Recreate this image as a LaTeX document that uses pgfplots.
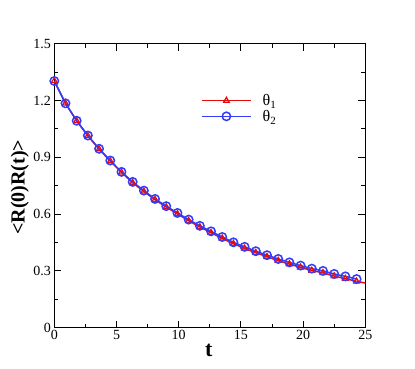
\documentclass[border=0pt]{standalone}
\usepackage{fontspec}
\setmainfont{Liberation Serif}
\usepackage{pgfplots}
\pgfplotsset{compat=1.18}
\definecolor{myred}{RGB}{230,10,10}
\definecolor{myblue}{RGB}{50,60,250}
\newcommand{\sub}[1]{\raisebox{-0.45ex}{\fontsize{11}{12}\selectfont #1}}
\begin{document}
\begin{tikzpicture}
\path[use as bounding box] (-54.3pt,-41.3pt) rectangle (360.7pt,327.7pt);
\begin{axis}[
  at={(0,0)}, anchor=south west,
  scale only axis, width=311pt, height=284pt,
  xmin=0, xmax=25, ymin=0, ymax=1.5,
  xtick={0,5,10,15,20,25},
  ytick={0,0.3,0.6,0.9,1.2,1.5},
  yticklabels={0,0.3,0.6,0.9,1.2,1.5},
  xticklabels={0,5,10,15,20,25},
  minor x tick num=1, minor y tick num=1,
  tick align=inside,
  major tick length=7pt, minor tick length=4pt,
  every tick/.style={black, line width=1pt},
  axis line style={line width=1.3pt},
  /pgf/number format/assume math mode=true,
  tick label style={font=\fontsize{14}{16}\selectfont},
  xticklabel style={yshift=1pt},
  xlabel={\textbf{t}},
  ylabel={\textbf{<R(0)R(t)>}},
  xlabel style={font=\fontsize{22}{24}\selectfont, at={(axis description cs:0.497,-0.081)}, anchor=center},
  ylabel style={font=\fontsize{20}{24}\selectfont, at={(axis description cs:-0.111,0.495)}, anchor=center},
  legend style={draw=none, fill=none, font=\fontsize{16}{18}\selectfont,
    at={(axis cs:11.55,1.255)}, anchor=north west, row sep=-1pt,
    cells={anchor=west}},
  legend image code/.code={\draw[#1, line width=1.5pt, mark repeat=2,mark phase=2] plot coordinates {(0pt,0pt)(24.5pt,0pt)(49pt,0pt)};},
  redstyle/.style={color=myred, line width=1.5pt, mark=triangle, mark size=3.3pt, mark options={solid, line width=1.2pt, fill=white}},
  bluestyle/.style={color=myblue, line width=1.5pt, mark=o, mark size=4.2pt, mark options={solid, line width=1.5pt}},
]
\addlegendimage{redstyle}
\addlegendentry{\hspace{9pt}θ\sub{1}}
\addlegendimage{bluestyle}
\addlegendentry{\hspace{9pt}θ\sub{2}}
\addplot[redstyle, forget plot]
coordinates {
(0,1.303)(0.9,1.185)(1.8,1.092)(2.7,1.013)(3.6,0.943)(4.5,0.880)(5.4,0.820)
(6.3,0.766)(7.2,0.720)(8.1,0.676)(9.0,0.637)(9.9,0.601)(10.8,0.565)(11.7,0.532)
(12.6,0.502)(13.5,0.472)(14.4,0.444)(15.3,0.419)(16.2,0.396)(17.1,0.375)(18.0,0.354)
(18.9,0.336)(19.8,0.319)(20.7,0.302)(21.6,0.290)(22.5,0.273)(23.4,0.259)(24.3,0.245)
};
\addplot[color=myred, line width=1.5pt, no marks, forget plot]
coordinates {(24.3,0.245)(25.0,0.236)};
\addplot[bluestyle, forget plot]
coordinates {
(0,1.303)(0.9,1.185)(1.8,1.093)(2.7,1.015)(3.6,0.945)(4.5,0.883)(5.4,0.823)
(6.3,0.770)(7.2,0.724)(8.1,0.680)(9.0,0.642)(9.9,0.606)(10.8,0.571)(11.7,0.538)
(12.6,0.509)(13.5,0.479)(14.4,0.451)(15.3,0.427)(16.2,0.404)(17.1,0.383)(18.0,0.363)
(18.9,0.345)(19.8,0.328)(20.7,0.312)(21.6,0.300)(22.5,0.284)(23.4,0.271)(24.3,0.257)
};
\end{axis}
\end{tikzpicture}
\end{document}
